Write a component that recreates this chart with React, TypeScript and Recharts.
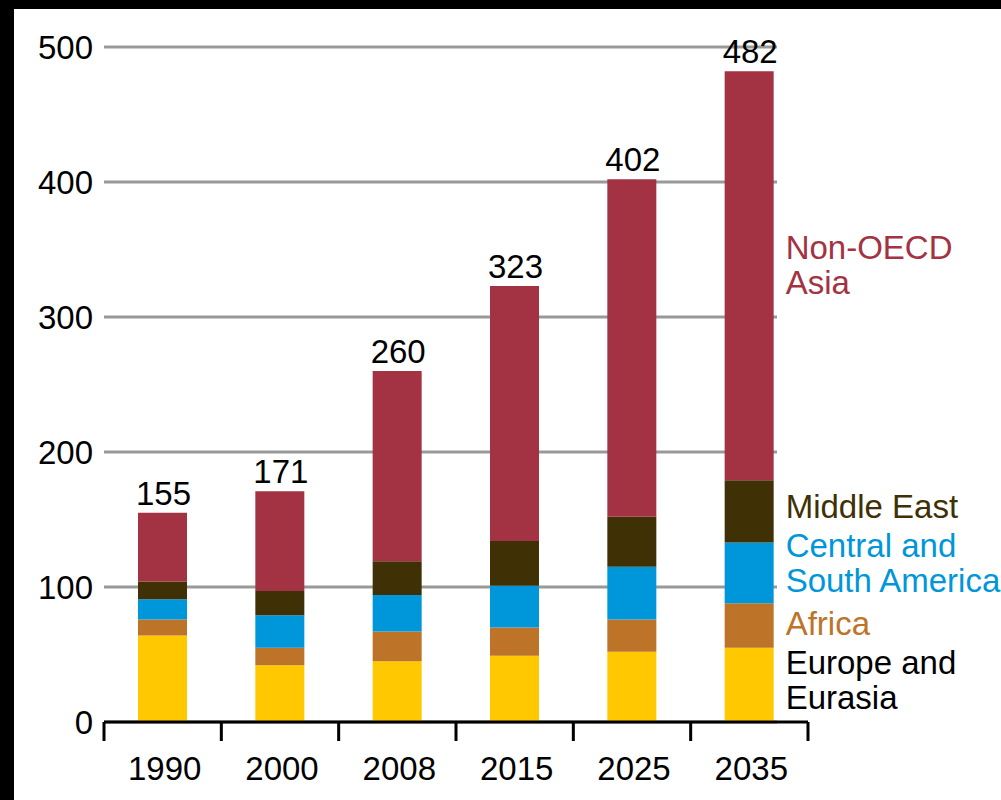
import React from 'react';
import { BarChart, Bar, XAxis, YAxis, CartesianGrid, LabelList } from 'recharts';

const years = ['1990', '2000', '2008', '2015', '2025', '2035'];
const europeEurasia = [64, 42, 45, 49, 52, 55];
const africa = [12, 13, 22, 21, 24, 33];
const centralSouthAmerica = [15, 24, 27, 31, 39, 45];
const middleEast = [13, 18, 25, 33, 37, 46];
const nonOecdAsia = [51, 74, 141, 189, 250, 303];
const totals = [155, 171, 260, 323, 402, 482];
const yTicks = [0, 100, 200, 300, 400, 500];

const seriesKeys = ['europe', 'africa', 'csa', 'me', 'asia'];
const seriesColors = ['#FFC800', '#BE7428', '#0096DA', '#3F3005', '#A33343'];
const seriesLabelColors = ['#000000', '#BE7428', '#0096DA', '#3F3005', '#A33343'];
const seriesLabels = [
  ['Europe and', 'Eurasia'],
  ['Africa'],
  ['Central and', 'South America'],
  ['Middle East'],
  ['Non-OECD', 'Asia'],
];
const seriesLabelShift = [0, 3, -5, 0, -6];
const seriesValues = [europeEurasia, africa, centralSouthAmerica, middleEast, nonOecdAsia];

const data = years.map((year, i) => {
  const row: any = { year, total: totals[i] };
  seriesKeys.forEach((k, s) => {
    row[k] = seriesValues[s][i];
  });
  return row;
});

const FONT = '"Liberation Sans", Arial, sans-serif';
const FS = 33;

const XTick = (props: any) => {
  const { x, y, payload, index } = props;
  const off = payload && typeof payload.offset === 'number' ? payload.offset : 0;
  const last = index === years.length - 1;
  return (
    <g>
      <line x1={x - off} x2={x - off} y1={y} y2={y + 19} stroke="#000" strokeWidth={3} />
      {last && <line x1={x + off} x2={x + off} y1={y} y2={y + 19} stroke="#000" strokeWidth={3} />}
      <text x={x + 2} y={y + 58} textAnchor="middle" fontSize={FS} fill="#000" fontFamily={FONT}>
        {payload.value}
      </text>
    </g>
  );
};

const YTick = (props: any) => {
  const { x, y, payload } = props;
  return (
    <text x={x - 3} y={y + 12} textAnchor="end" fontSize={FS} fill="#000" fontFamily={FONT}>
      {payload.value}
    </text>
  );
};

const GridLine = (props: any) => {
  const { x1, x2, y1, y2 } = props;
  return <line x1={x1} x2={x2 - 31} y1={y1} y2={y2} stroke="#999" strokeWidth={3} />;
};

const makeSideLabel = (s: number) => (props: any) => {
  const { x, y, width, height, index } = props;
  if (index !== years.length - 1) return null;
  const lines = seriesLabels[s];
  const lh = 35;
  const cy = Number(y) + Number(height) / 2 - 4 + seriesLabelShift[s];
  const startY = cy - ((lines.length - 1) * lh) / 2 + 11;
  return (
    <text fontSize={FS} fill={seriesLabelColors[s]} fontFamily={FONT}>
      {lines.map((l, i) => (
        <tspan key={i} x={Number(x) + Number(width) + 12} y={startY + i * lh}>
          {l}
        </tspan>
      ))}
    </text>
  );
};

const TotalLabel = (props: any) => {
  const { x, y, width, value } = props;
  return (
    <text x={Number(x) + Number(width) / 2 + 1} y={Number(y) - 8} textAnchor="middle" fontSize={FS} fill="#000" fontFamily={FONT}>
      {value}
    </text>
  );
};

export default function App() {
  return (
    <div style={{ position: 'absolute', left: 0, top: 0, width: 1001, height: 800, background: '#fff', fontFamily: FONT, overflow: 'hidden' }}>
      <div style={{ position: 'absolute', left: 0, top: 0, width: 1001, height: 9, background: '#000' }} />
      <div style={{ position: 'absolute', left: 0, top: 0, width: 14, height: 800, background: '#000' }} />
      <div style={{ position: 'absolute', left: 0, top: 0 }}>
        <BarChart
          width={1001}
          height={800}
          data={data}
          margin={{ top: 47, right: 193, left: 14, bottom: 0 }}
          barSize={49}
        >
          <CartesianGrid vertical={false} horizontal={GridLine as any} />
          <YAxis
            width={90}
            domain={[0, 500]}
            ticks={yTicks}
            axisLine={false}
            tickLine={false}
            tick={YTick as any}
            interval={0}
          />
          <XAxis
            dataKey="year"
            height={78}
            axisLine={{ stroke: '#000', strokeWidth: 3 }}
            tickLine={false}
            tickSize={0}
            tickMargin={0}
            tick={XTick as any}
            interval={0}
          />
          {seriesKeys.map((k, s) => (
            <Bar key={k} dataKey={k} stackId="a" fill={seriesColors[s]} isAnimationActive={false}>
              <LabelList dataKey={k} content={makeSideLabel(s) as any} />
              {s === seriesKeys.length - 1 && <LabelList dataKey="total" content={TotalLabel as any} />}
            </Bar>
          ))}
        </BarChart>
      </div>
    </div>
  );
}
